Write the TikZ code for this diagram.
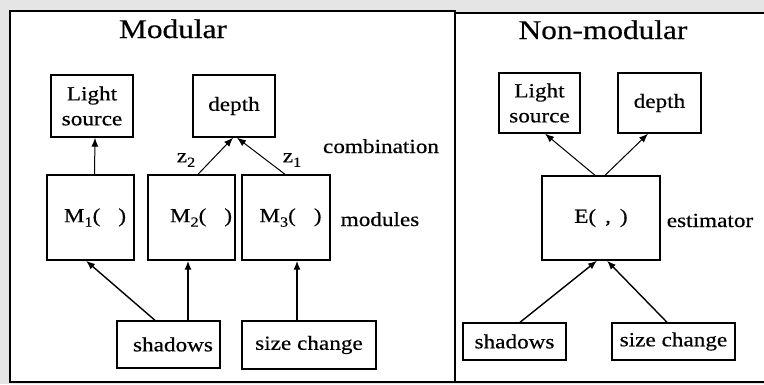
\documentclass[tikz,border=0pt]{standalone}
\usepackage{fontspec}
\setmainfont{Liberation Serif}[FakeStretch=1.16,FakeBold=0.4]
\usetikzlibrary{arrows.meta}
\newcommand{\sbs}[1]{\raisebox{-4.5pt}{\fontsize{14}{14}\selectfont #1}}
\tikzset{
  bx/.style={draw, line width=1.4pt, inner sep=0pt, align=center, font=\fontsize{20}{25}\selectfont},
  lbl/.style={inner sep=0pt, font=\fontsize{20}{24}\selectfont},
  ttl/.style={inner sep=0pt, anchor=base, font=\fontsize{27}{30}\selectfont},
  arr/.style={-{Latex[length=9pt,width=7pt]}, line width=1pt},
  arrb/.style={-{Latex[length=9pt,width=7pt]}, line width=1.4pt},
  panel/.style={draw, fill=white, line width=1.8pt}
}
\begin{document}
\begin{tikzpicture}[x=1pt,y=-1pt]
\useasboundingbox (0,0) rectangle (764,384);
\clip (0,0) rectangle (764,384);
\fill[black!10] (0,0) rectangle (764,384);
% panels
\draw[panel] (10,11) rectangle (455,382);
\draw[panel] (455,13) rectangle (770,382);
% titles
\node[ttl] (tmod) at (173,38) {Modular};
\node[ttl] (tnon) at (603,39) {Non-modular};
% left panel nodes
\node[bx, minimum width=82pt, minimum height=62pt] (ls1) at (92,106) {Light\\source};
\node[bx, minimum width=82pt, minimum height=62pt] (d1) at (234,106) {depth};
\node[bx, minimum width=87pt, minimum height=85pt] (m1) at (90.5,217.5) {\hspace{9pt}M\sbs{1}(\hspace{0.9em})};
\node[bx, minimum width=87pt, minimum height=85pt] (m2) at (191.5,217.5) {\hspace{19pt}M\sbs{2}(\hspace{0.9em})};
\node[bx, minimum width=88pt, minimum height=85pt] (m3) at (286,217.5) {\hspace{9pt}M\sbs{3}(\hspace{0.9em})};
\node[bx, minimum width=103pt, minimum height=47pt] (sh1) at (168.5,344.5) {\hspace{9pt}shadows};
\node[bx, minimum width=134pt, minimum height=48pt] (sc1) at (309,345) {size change};
\node[lbl, anchor=base] (comb) at (381,153) {combination};
\node[lbl, anchor=base] (mods) at (380,226) {modules};
\node[lbl] (z2) at (186,160) {z\sbs{2}};
\node[lbl] (z1) at (292,160) {z\sbs{1}};
% left arrows
\draw[arr] ([xshift=4pt]m1.north) -- ([xshift=3pt]ls1.south);
\draw[arr] ([xshift=6.5pt]m2.north) -- ([xshift=-1pt]d1.south);
\draw[arr] ([xshift=-1pt]m3.north) -- ([xshift=3pt]d1.south);
\draw[arrb] ([xshift=-13.5pt]sh1.north) -- ([xshift=-4.5pt]m1.south);
\draw[arrb] ([xshift=19.5pt]sh1.north) -- ([xshift=-3.5pt]m2.south);
\draw[arrb] ([xshift=-12pt]sc1.north) -- ([xshift=11pt]m3.south);
% right panel nodes
\node[bx, minimum width=81pt, minimum height=60pt] (ls2) at (539.5,103) {Light\\source};
\node[bx, minimum width=83pt, minimum height=60pt] (d2) at (659.5,103) {depth};
\node[bx, minimum width=118pt, minimum height=84pt] (e) at (601,218) {E(\hspace{0.45em},\hspace{0.45em})};
\node[bx, minimum width=103pt, minimum height=37pt] (sh2) at (514.5,341.5) {shadows};
\node[bx, minimum width=123pt, minimum height=37pt] (sc2) at (673.5,341.5) {size change};
\node[lbl, anchor=base] (est) at (710,227) {estimator};
% right arrows
\draw[arr] ([xshift=-6pt]e.north) -- ([xshift=5.5pt]ls2.south);
\draw[arr] ([xshift=4pt]e.north) -- ([xshift=-11.5pt]d2.south);
\draw[arrb] ([xshift=5.5pt]sh2.north) -- ([xshift=-4pt]e.south);
\draw[arrb] ([xshift=-6.5pt]sc2.north) -- ([xshift=6pt]e.south);
\end{tikzpicture}
\end{document}
